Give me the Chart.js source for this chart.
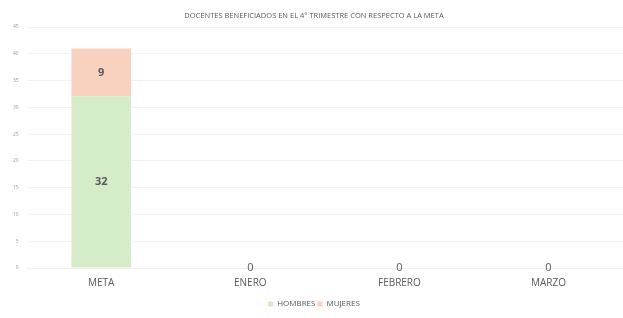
<!DOCTYPE html>
<html>
<head>
<meta charset="utf-8">
<script src="https://cdn.jsdelivr.net/npm/chart.js@4/dist/chart.umd.min.js"></script>
<style>
html,body{margin:0;padding:0;background:#fff;overflow:hidden;}
#wrap{width:623px;height:318px;position:relative;}
</style>
</head>
<body>
<div id="wrap"><canvas id="c" width="623" height="318"></canvas></div>
<script>
const categories = ["META", "ENERO", "FEBRERO", "MARZO"];
const hombres = [32, 0, 0, 0];
const mujeres = [9, 0, 0, 0];
const yMax = 45;
const yStep = 5;
const titleText = "DOCENTES BENEFICIADOS EN EL 4° TRIMESTRE CON RESPECTO A LA META";

const FONT = "'Open Sans', 'Liberation Sans', sans-serif";

const labelPlugin = {
  id: 'segLabels',
  afterDatasetsDraw(chart) {
    const ctx = chart.ctx;
    ctx.save();
    ctx.textAlign = 'center';
    ctx.textBaseline = 'middle';
    ctx.fillStyle = '#595959';
    const n = chart.data.labels.length;
    for (let i = 0; i < n; i++) {
      let total = 0;
      chart.data.datasets.forEach(ds => total += ds.data[i]);
      if (total === 0) {
        const el = chart.getDatasetMeta(0).data[i];
        ctx.font = "11px " + FONT;
        ctx.fillText("0", el.x, el.y);
        continue;
      }
      chart.data.datasets.forEach((ds, d) => {
        const v = ds.data[i];
        if (v > 0) {
          const el = chart.getDatasetMeta(d).data[i];
          ctx.font = "bold 11px " + FONT;
          ctx.fillText(String(v), el.x, (el.y + el.base) / 2);
        }
      });
    }
    ctx.restore();
  }
};

new Chart(document.getElementById('c'), {
  type: 'bar',
  data: {
    labels: categories,
    datasets: [
      { label: 'HOMBRES', data: hombres, backgroundColor: '#d5ecc9', borderWidth: 0 },
      { label: 'MUJERES', data: mujeres, backgroundColor: '#f9d1bf', borderWidth: 0 }
    ]
  },
  options: {
    responsive: false,
    animation: false,
    devicePixelRatio: 1,
    layout: { padding: { left: 5, right: 0, top: 8, bottom: 0 } },
    datasets: { bar: { barPercentage: 0.8, categoryPercentage: 0.5 } },
    scales: {
      x: {
        stacked: true,
        grid: { display: false, drawTicks: false },
        border: { display: true, color: '#f0f0f0' },
        ticks: { color: '#595959', font: { family: FONT, size: 10 }, padding: 9 }
      },
      y: {
        stacked: true,
        min: 0, max: yMax,
        grid: { color: '#f2f2f2', drawTicks: false },
        border: { display: false },
        ticks: { stepSize: yStep, color: '#999', font: { family: FONT, size: 5 }, padding: 8 }
      }
    },
    plugins: {
      title: {
        display: true, text: titleText, color: '#595959',
        font: { family: FONT, size: 7.5, weight: 'normal' },
        padding: { top: 3, bottom: 7 }
      },
      legend: {
        position: 'bottom',
        labels: { color: '#595959', font: { family: FONT, size: 8 }, boxWidth: 5, boxHeight: 5, padding: 2 }
      },
      tooltip: { enabled: false }
    }
  },
  plugins: [labelPlugin]
});
</script>
</body>
</html>
